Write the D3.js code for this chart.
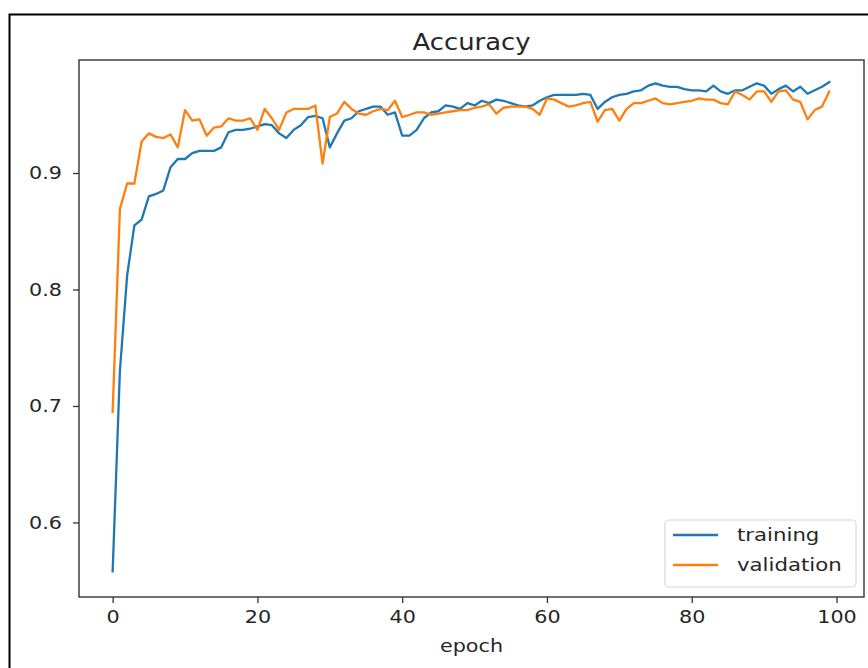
<!DOCTYPE html>
<html>
<head>
<meta charset="utf-8">
<script src="https://cdn.jsdelivr.net/npm/d3@7"></script>
<style>
  body { margin: 0; background: #fff; }
  text { font-family: "DejaVu Sans", sans-serif; fill: #262626; }
</style>
</head>
<body>
<script>
// accuracy per epoch
var training = [0.558, 0.730, 0.812, 0.855, 0.860, 0.880, 0.882, 0.885, 0.905, 0.912,
    0.912, 0.917, 0.919, 0.919, 0.919, 0.922, 0.935, 0.937, 0.937, 0.938,
    0.940, 0.942, 0.941, 0.934, 0.930, 0.937, 0.941, 0.948, 0.949, 0.947,
    0.922, 0.934, 0.945, 0.947, 0.953, 0.955, 0.957, 0.957, 0.950, 0.952,
    0.932, 0.932, 0.937, 0.947, 0.952, 0.953, 0.958, 0.957, 0.955, 0.960,
    0.958, 0.962, 0.960, 0.963, 0.962, 0.960, 0.958, 0.957, 0.958, 0.962,
    0.965, 0.967, 0.967, 0.967, 0.967, 0.968, 0.967, 0.955, 0.961, 0.965,
    0.967, 0.968, 0.970, 0.971, 0.975, 0.977, 0.975, 0.974, 0.974, 0.972,
    0.971, 0.971, 0.970, 0.975, 0.970, 0.968, 0.971, 0.971, 0.974, 0.977,
    0.975, 0.968, 0.972, 0.975, 0.970, 0.974, 0.968, 0.971, 0.974, 0.978];

var validation = [0.695, 0.869, 0.891, 0.891, 0.927, 0.934, 0.931, 0.930, 0.933, 0.922,
    0.954, 0.945, 0.946, 0.932, 0.939, 0.940, 0.947, 0.945, 0.945, 0.947,
    0.937, 0.955, 0.947, 0.937, 0.952, 0.955, 0.955, 0.955, 0.958, 0.908,
    0.948, 0.951, 0.961, 0.955, 0.951, 0.950, 0.953, 0.955, 0.954, 0.962,
    0.948, 0.950, 0.952, 0.952, 0.950, 0.951, 0.952, 0.953, 0.954, 0.954,
    0.956, 0.957, 0.959, 0.951, 0.956, 0.957, 0.957, 0.957, 0.955, 0.950,
    0.964, 0.963, 0.960, 0.957, 0.958, 0.960, 0.961, 0.944, 0.954, 0.955,
    0.945, 0.955, 0.960, 0.960, 0.962, 0.964, 0.960, 0.959, 0.960, 0.961,
    0.962, 0.964, 0.963, 0.963, 0.960, 0.959, 0.970, 0.967, 0.963, 0.970,
    0.970, 0.961, 0.970, 0.971, 0.963, 0.961, 0.946, 0.954, 0.957, 0.970];

var xTicks = [0, 20, 40, 60, 80, 100];
var yTicks = [0.6, 0.7, 0.8, 0.9];
var seriesNames = ["training", "validation"];
var colors = ["#1f77b4", "#ff7f0e"];
var title = "Accuracy";
var xLabel = "epoch";

var W = 868, H = 668;
var mL = 79, mR = 864, mT = 60, mB = 597;
var sx = 1.15;   // text in the picture is a bit stretched sideways

var svg = d3.select("body").append("svg")
    .attr("width", W).attr("height", H);

// outer frame of the screenshot
svg.append("rect")
    .attr("x", 9.5).attr("y", 14.5)
    .attr("width", W + 20).attr("height", H + 20)
    .attr("fill", "none").attr("stroke", "#000").attr("stroke-width", 2);

var x = d3.scaleLinear().domain([-4.65, 103.8]).range([mL, mR]);
var y = d3.scaleLinear().domain([0.536, 0.997]).range([mB, mT]);

var line = d3.line()
    .x(function(d, i) { return x(i); })
    .y(function(d) { return y(d); });

var plot = svg.append("g");
[training, validation].forEach(function(s, k) {
    plot.append("path")
        .datum(s)
        .attr("d", line)
        .attr("fill", "none")
        .attr("stroke", colors[k])
        .attr("stroke-width", 2.3)
        .attr("stroke-linejoin", "round")
        .attr("stroke-linecap", "square");
});

function label(px, py, txt, size, anchor) {
    return svg.append("text")
        .attr("transform", "translate(" + px + "," + py + ") scale(" + sx + ",1)")
        .attr("text-anchor", anchor || "middle")
        .attr("font-size", size)
        .text(txt);
}

// axes
var xAxis = svg.append("g")
    .attr("transform", "translate(0," + mB + ")")
    .call(d3.axisBottom(x).tickValues(xTicks).tickFormat(d3.format("d"))
        .tickSize(6).tickPadding(7));
var yAxis = svg.append("g")
    .attr("transform", "translate(" + mL + ",0)")
    .call(d3.axisLeft(y).tickValues(yTicks).tickFormat(d3.format(".1f"))
        .tickSize(6).tickPadding(6));

[xAxis, yAxis].forEach(function(a) {
    a.select(".domain").remove();
    a.selectAll(".tick line").attr("stroke", "#333").attr("stroke-width", 1.3);
    a.selectAll(".tick text").attr("font-size", 18)
        .attr("font-family", "DejaVu Sans").attr("fill", "#262626")
        .attr("transform", "scale(" + sx + ",1)");
});
yAxis.selectAll(".tick text").attr("x", -17 / sx);

svg.append("rect")
    .attr("x", mL).attr("y", mT)
    .attr("width", mR - mL).attr("height", mB - mT)
    .attr("fill", "none").attr("stroke", "#333").attr("stroke-width", 1.4);

label((mL + mR) / 2, 50, title, 22.5);
label((mL + mR) / 2, 652, xLabel, 18);

// legend
var lg = svg.append("g");
lg.append("rect")
    .attr("x", 665).attr("y", 520).attr("width", 191).attr("height", 67)
    .attr("rx", 4).attr("fill", "#fff").attr("fill-opacity", 0.8)
    .attr("stroke", "#d8d8d8").attr("stroke-width", 1.2);
seriesNames.forEach(function(n, k) {
    var ly = 535 + k * 30;
    lg.append("line")
        .attr("x1", 673).attr("x2", 718).attr("y1", ly).attr("y2", ly)
        .attr("stroke", colors[k]).attr("stroke-width", 2.3);
    label(737, ly + 6, n, 18.5, "start");
});
</script>
</body>
</html>
